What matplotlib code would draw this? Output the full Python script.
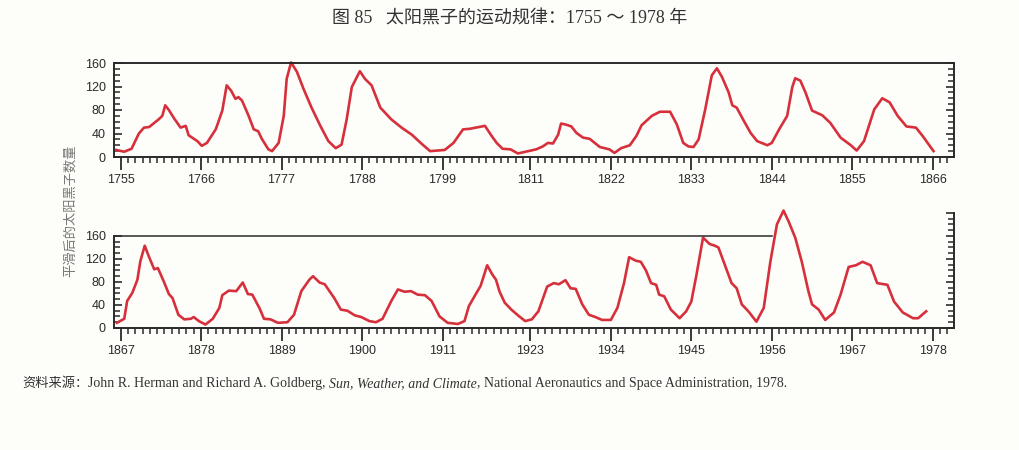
import numpy as np
import matplotlib
matplotlib.use("Agg")
import matplotlib.pyplot as plt
from matplotlib.ticker import MultipleLocator, FixedLocator, NullFormatter

# smoothed sunspot number
years_a = [1754.4, 1755.5, 1756.5, 1757.5, 1758.2, 1758.9, 1760.2, 1760.7, 1761.1, 1761.6,
           1762.3, 1763.2, 1763.9, 1764.3, 1765.5, 1766.1, 1766.8, 1768.0, 1768.4, 1768.9,
           1769.5, 1770.1, 1770.7, 1771.1, 1771.6, 1772.5, 1773.2, 1773.8, 1774.3, 1775.2,
           1775.7, 1776.6, 1777.3, 1777.7, 1778.3, 1779.1, 1780.0, 1781.1, 1782.3, 1783.4,
           1784.4, 1785.2, 1785.9, 1786.6, 1787.7, 1788.4, 1789.3, 1790.5, 1792.0, 1793.4,
           1794.8, 1796.1, 1797.3, 1799.3, 1800.5, 1801.8, 1802.7, 1804.8, 1805.7, 1806.4,
           1807.2, 1808.3, 1809.3, 1810.0, 1811.8, 1812.7, 1813.4, 1814.1, 1814.8, 1815.2,
           1815.9, 1816.6, 1817.3, 1818.2, 1819.1, 1820.5, 1821.8, 1822.5, 1823.4, 1824.6,
           1825.5, 1826.2, 1827.6, 1828.7, 1830.1, 1831.0, 1831.9, 1832.6, 1833.3, 1834.0,
           1834.9, 1835.8, 1836.5, 1837.2, 1838.1, 1838.6, 1839.2, 1840.2, 1841.1, 1842.0,
           1843.4, 1844.0, 1845.0, 1846.1, 1846.8, 1847.2, 1847.9, 1848.6, 1849.5, 1850.9,
           1852.0, 1853.4, 1854.8, 1855.6, 1856.6, 1858.0, 1859.1, 1860.1, 1861.2, 1862.4,
           1863.7, 1864.6, 1866.1]
spots_a = [12, 9, 14, 40, 50, 51, 64, 70, 88, 80,
           66, 50, 53, 37, 27, 19, 24, 47, 61, 79,
           122, 113, 99, 102, 96, 70, 47, 44, 31, 13,
           10, 24, 70, 133, 161, 145, 116, 84, 53, 27,
           15, 21, 64, 119, 146, 133, 122, 84, 64, 50,
           38, 23, 10, 12, 24, 47, 48, 53, 36, 24,
           14, 13, 6, 8, 13, 18, 24, 23, 38, 57,
           55, 52, 41, 33, 31, 17, 13, 7, 15, 20,
           36, 54, 70, 77, 77, 56, 24, 18, 17, 30,
           81, 139, 151, 136, 110, 88, 84, 61, 41, 27,
           20, 24, 47, 70, 119, 134, 130, 110, 79, 71,
           58, 33, 20, 11, 27, 81, 100, 93, 70, 52,
           50, 36, 10]

years_b = [1866.5, 1867.5, 1867.9, 1868.6, 1869.3, 1869.7, 1870.3, 1870.9, 1871.6, 1872.1,
           1872.9, 1873.6, 1874.1, 1874.9, 1875.7, 1876.6, 1877.0, 1877.7, 1878.6, 1879.6,
           1880.5, 1880.9, 1881.8, 1882.8, 1883.7, 1884.4, 1885.0, 1886.0, 1886.6, 1887.5,
           1888.5, 1889.8, 1890.7, 1891.7, 1892.8, 1893.3, 1894.2, 1894.9, 1896.2, 1897.1,
           1898.0, 1899.0, 1899.9, 1901.0, 1901.9, 1902.8, 1904.0, 1904.9, 1905.8, 1906.7,
           1907.6, 1908.6, 1909.5, 1910.6, 1911.7, 1913.1, 1914.0, 1914.6, 1915.5, 1916.2,
           1917.1, 1917.8, 1918.3, 1918.8, 1919.5, 1920.4, 1921.4, 1922.3, 1923.2, 1924.1,
           1925.3, 1926.2, 1926.9, 1927.8, 1928.5, 1929.2, 1930.1, 1931.0, 1931.9, 1932.8,
           1934.0, 1934.9, 1935.8, 1936.5, 1937.4, 1938.1, 1938.8, 1939.5, 1940.2, 1940.6,
           1941.3, 1942.2, 1943.4, 1944.3, 1945.0, 1945.7, 1946.6, 1947.5, 1948.2, 1948.7,
           1949.6, 1950.5, 1951.2, 1951.9, 1952.8, 1953.9, 1954.9, 1955.8, 1956.7, 1957.6,
           1958.3, 1959.2, 1960.1, 1961.0, 1961.5, 1962.4, 1963.3, 1964.5, 1965.4, 1966.5,
           1967.5, 1968.4, 1969.5, 1970.4, 1971.8, 1972.7, 1973.9, 1975.3, 1976.0, 1977.1]
spots_b = [9, 16, 47, 61, 84, 116, 143, 123, 102, 104,
           81, 59, 52, 23, 15, 16, 19, 12, 6, 16,
           35, 57, 65, 64, 79, 59, 58, 34, 16, 15,
           9, 10, 23, 64, 84, 90, 79, 76, 52, 32,
           30, 22, 19, 12, 10, 16, 47, 67, 63, 64,
           58, 57, 47, 20, 9, 7, 12, 38, 58, 73,
           109, 93, 84, 63, 44, 32, 21, 12, 15, 29,
           72, 78, 76, 83, 69, 68, 41, 23, 19, 14,
           14, 35, 78, 123, 117, 115, 100, 78, 75, 58,
           55, 32, 17, 29, 46, 92, 157, 146, 143, 140,
           109, 78, 69, 41, 29, 11, 35, 115, 180, 204,
           185, 157, 115, 64, 41, 32, 14, 27, 58, 106,
           109, 115, 109, 78, 75, 46, 27, 17, 17, 29]

ticks_a = [1755, 1766, 1777, 1788, 1799, 1811, 1822, 1833, 1844, 1855, 1866]
ticks_b = [1867, 1878, 1889, 1900, 1911, 1923, 1934, 1945, 1956, 1967, 1978]
yticks = [0, 40, 80, 120, 160]
ref_level = 160
ref_end = 1956
right_top = 200

title = "图 85   太阳黑子的运动规律：1755 ～ 1978 年"
ylabel = "平滑后的太阳黑子数量"
src_parts = [("资料来源：", "normal"),
             ("John R. Herman and Richard A. Goldberg, ", "normal"),
             ("Sun, Weather, and Climate", "italic"),
             (", National Aeronautics and Space Administration, 1978.", "normal")]

RED = "#d6303c"
INK = "#2a2a2a"
BG = "#fdfdf9"
SERIF = ["Liberation Serif", "Noto Sans CJK SC"]

plt.rcParams["font.family"] = ["Liberation Sans", "Noto Sans CJK SC"]

fig = plt.figure(figsize=(10.2, 4.5), dpi=100, facecolor=BG)
ax1 = fig.add_axes([114 / 1020, 1 - 157 / 450, 840 / 1020, 94 / 450])
ax2 = fig.add_axes([114 / 1020, 1 - 328 / 450, 840 / 1020, 118 / 450])


def style_axis(ax, xticks, xlim, ytop):
	ax.set_facecolor("none")
	ax.set_xlim(xlim)
	ax.set_ylim(0, ytop)
	ax.xaxis.set_major_locator(FixedLocator(xticks))
	ax.xaxis.set_minor_locator(MultipleLocator(1))
	ax.set_xticklabels([str(t) for t in xticks])
	ax.yaxis.set_major_locator(FixedLocator(yticks))
	ax.yaxis.set_minor_locator(FixedLocator(list(range(0, ref_level + 1, 10))))
	ax.tick_params(axis="x", which="major", direction="out", length=9, width=1.3,
	               color=INK, labelsize=9, labelcolor=INK, pad=3)
	ax.tick_params(axis="x", which="minor", direction="out", length=4, width=1.1, color=INK)
	ax.tick_params(axis="y", which="major", direction="in", length=6, width=1.2,
	               color=INK, labelsize=9, labelcolor=INK, pad=6,
	               left=True, right=True)
	ax.tick_params(axis="y", which="minor", direction="in", length=4, width=1.1,
	               color=INK, left=True, right=True)
	for s in ax.spines.values():
		s.set_color(INK)
		s.set_linewidth(1.4)


style_axis(ax1, ticks_a, (1754.1, 1868.9), 160)
ax1.plot(years_a, spots_a, color=RED, lw=1.9, clip_on=False, solid_joinstyle="round")

style_axis(ax2, ticks_b, (1866.1, 1980.9), 205)
ax2.plot(years_b, spots_b, color=RED, lw=1.9, clip_on=False, solid_joinstyle="round")
ax2.spines["top"].set_visible(False)
ax2.spines["right"].set_visible(False)
ax2.spines["left"].set_bounds(0, ref_level)
ax2.tick_params(axis="y", which="both", right=False)
ax2.plot([ax2.get_xlim()[0], ref_end], [ref_level, ref_level], color=INK, lw=1.1, clip_on=False)

# right side of the lower panel runs higher, up to 200
ax2r = ax2.twinx()
ax2r.set_ylim(ax2.get_ylim())
ax2r.yaxis.set_major_locator(FixedLocator(list(range(0, right_top + 1, 40))))
ax2r.yaxis.set_minor_locator(MultipleLocator(10))
ax2r.yaxis.set_major_formatter(NullFormatter())
ax2r.tick_params(axis="y", which="major", direction="in", length=6, width=1.2, color=INK)
ax2r.tick_params(axis="y", which="minor", direction="in", length=4, width=1.1, color=INK)
for name, s in ax2r.spines.items():
	s.set_visible(name == "right")
ax2r.spines["right"].set_bounds(0, right_top)
ax2r.spines["right"].set_color(INK)
ax2r.spines["right"].set_linewidth(1.4)

fig.text(0.5, 0.958, title, ha="center", va="center", fontsize=13,
         family=SERIF, color="#333333")
fig.text(70 / 1020, 1 - 211 / 450, ylabel, rotation=90, ha="center", va="center",
         fontsize=9.5, family=["Noto Sans CJK SC"], color="#777777")

# source line, pieces chained left to right
prev = None
for txt, style in src_parts:
	if prev is None:
		prev = fig.text(22 / 1020, 1 - 390 / 450, txt, ha="left", va="bottom",
		                fontsize=9.5, family=SERIF, color="#333333")
	else:
		prev = ax2.annotate(txt, xy=(1, 0), xycoords=prev, ha="left", va="bottom",
		                    fontsize=10, family=SERIF, style=style, color="#333333",
		                    annotation_clip=False)

fig.savefig("out.png", dpi=100, facecolor=BG)
